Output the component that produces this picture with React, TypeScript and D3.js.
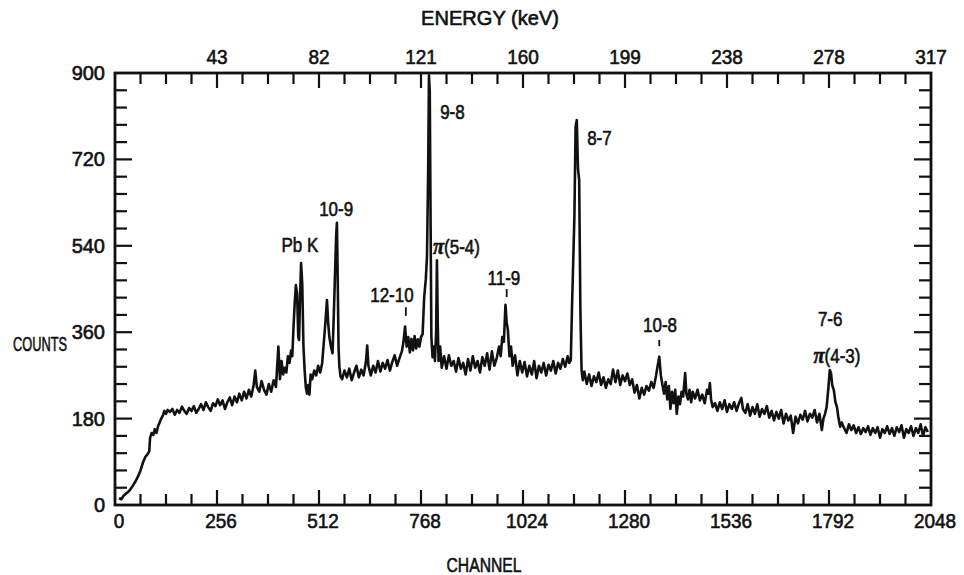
import React from "react";
import * as d3 from "d3";

// ---- data ----
const spectrum: [number, number][] = [
  [10, 14], [16, 12], [22, 20], [28, 24], [34, 28], [40, 34], [46, 42], [52, 50], [58, 60], [64, 72],
  [70, 88], [76, 100], [82, 106], [86, 112], [88, 140], [92, 150], [96, 146], [100, 158], [104, 150], [108, 164],
  [112, 172], [116, 180], [120, 186], [124, 196], [128, 190], [132, 198], [138, 194], [144, 200], [150, 188], [156, 198],
  [162, 192], [168, 205], [174, 196], [180, 190], [186, 202], [192, 196], [198, 206], [204, 192], [210, 200], [216, 210],
  [222, 198], [228, 214], [234, 204], [240, 196], [246, 212], [252, 206], [258, 220], [264, 208], [270, 218], [276, 200],
  [282, 214], [288, 224], [294, 208], [300, 226], [306, 214], [312, 232], [318, 218], [324, 236], [330, 222], [336, 240],
  [342, 226], [348, 250], [352, 280], [356, 246], [362, 236], [368, 258], [374, 240], [380, 230], [386, 252], [392, 236],
  [398, 260], [404, 246], [410, 330], [414, 262], [418, 300], [422, 272], [426, 286], [430, 276], [434, 310], [438, 296],
  [442, 322], [445, 310], [448, 370], [451, 420], [454, 458], [457, 440], [460, 350], [462, 344], [464, 420], [467, 504],
  [470, 460], [473, 330], [476, 280], [479, 245], [482, 232], [485, 250], [488, 230], [491, 272], [495, 262], [500, 280],
  [505, 270], [510, 290], [515, 276], [520, 296], [524, 338], [528, 380], [532, 427], [535, 380], [538, 350], [542, 330],
  [546, 316], [549, 392], [552, 475], [555, 560], [557, 588], [559, 470], [561, 330], [563, 290], [566, 268], [570, 262],
  [576, 280], [582, 266], [588, 284], [594, 260], [600, 276], [606, 290], [612, 266], [618, 282], [624, 270], [630, 300],
  [633, 332], [636, 290], [642, 270], [648, 290], [654, 276], [660, 300], [666, 278], [672, 296], [678, 284], [684, 302],
  [690, 280], [696, 298], [702, 312], [708, 290], [714, 306], [720, 320], [724, 340], [728, 372], [732, 330], [736, 350],
  [740, 318], [744, 346], [748, 322], [752, 352], [756, 326], [760, 345], [764, 330], [768, 350], [772, 356], [776, 433],
  [780, 470], [783, 517], [786, 700], [788, 895], [790, 860], [792, 600], [794, 350], [797, 308], [800, 330], [803, 300],
  [806, 360], [808, 510], [810, 379], [812, 300], [816, 330], [820, 286], [826, 310], [832, 284], [838, 312], [844, 290],
  [850, 300], [856, 278], [862, 306], [868, 284], [874, 296], [880, 272], [886, 304], [892, 280], [898, 310], [904, 286],
  [910, 300], [916, 276], [922, 308], [928, 290], [934, 316], [940, 282], [946, 320], [952, 290], [958, 306], [964, 330],
  [968, 310], [972, 350], [976, 340], [980, 417], [983, 380], [986, 365], [990, 310], [994, 330], [998, 290], [1004, 312],
  [1010, 270], [1016, 300], [1022, 276], [1028, 298], [1034, 268], [1040, 290], [1046, 272], [1052, 300], [1058, 264], [1064, 290],
  [1070, 276], [1076, 296], [1082, 270], [1088, 292], [1094, 280], [1100, 300], [1106, 274], [1112, 296], [1118, 284], [1124, 304],
  [1130, 288], [1136, 310], [1140, 296], [1144, 302], [1147, 412], [1150, 506], [1153, 600], [1156, 788], [1159, 802], [1162, 700],
  [1165, 677], [1168, 406], [1171, 281], [1174, 260], [1178, 278], [1184, 252], [1190, 272], [1196, 248], [1202, 268], [1208, 256],
  [1214, 276], [1220, 250], [1226, 266], [1232, 244], [1238, 262], [1244, 252], [1250, 282], [1256, 256], [1262, 280], [1268, 250],
  [1274, 270], [1280, 258], [1286, 274], [1292, 250], [1298, 262], [1304, 234], [1310, 250], [1316, 222], [1322, 244], [1328, 230],
  [1334, 248], [1340, 238], [1346, 256], [1352, 244], [1358, 270], [1362, 290], [1366, 309], [1370, 270], [1374, 250], [1378, 232],
  [1382, 256], [1386, 220], [1390, 248], [1394, 200], [1398, 236], [1402, 212], [1406, 240], [1410, 190], [1414, 226], [1418, 210],
  [1422, 236], [1426, 226], [1431, 275], [1434, 232], [1438, 220], [1442, 240], [1446, 214], [1450, 236], [1456, 222], [1462, 240],
  [1468, 218], [1474, 230], [1480, 212], [1486, 240], [1490, 232], [1493, 254], [1496, 220], [1500, 204], [1506, 212], [1512, 196],
  [1518, 214], [1524, 200], [1530, 218], [1536, 194], [1542, 210], [1548, 200], [1554, 214], [1560, 196], [1566, 212], [1572, 223],
  [1576, 200], [1582, 192], [1588, 210], [1594, 186], [1600, 204], [1606, 190], [1612, 210], [1618, 184], [1624, 200], [1630, 190],
  [1636, 206], [1642, 182], [1648, 196], [1654, 176], [1660, 194], [1666, 180], [1672, 198], [1678, 170], [1684, 190], [1690, 176],
  [1696, 186], [1702, 150], [1708, 184], [1714, 170], [1720, 188], [1726, 178], [1732, 196], [1738, 174], [1744, 190], [1750, 182],
  [1756, 198], [1762, 172], [1768, 190], [1774, 156], [1778, 180], [1782, 190], [1786, 204], [1790, 240], [1794, 281], [1797, 275],
  [1800, 250], [1804, 240], [1808, 215], [1812, 204], [1816, 180], [1820, 163], [1824, 172], [1830, 160], [1836, 150], [1842, 168],
  [1848, 156], [1854, 166], [1860, 150], [1866, 162], [1872, 148], [1878, 160], [1884, 152], [1890, 164], [1896, 146], [1902, 160],
  [1908, 150], [1914, 162], [1920, 140], [1926, 158], [1932, 150], [1938, 164], [1944, 148], [1950, 160], [1956, 144], [1962, 162],
  [1968, 152], [1974, 166], [1980, 140], [1986, 158], [1992, 150], [1998, 164], [2004, 144], [2010, 160], [2016, 150], [2022, 168],
  [2028, 144], [2034, 162], [2040, 152],
];

const channelTicks = [0, 256, 512, 768, 1024, 1280, 1536, 1792, 2048];
const energyTickChannels = [256, 512, 768, 1024, 1280, 1536, 1792, 2048];
const energyLabels = ["43", "82", "121", "160", "199", "238", "278", "317"];
const countTicks = [0, 180, 360, 540, 720, 900];

// annotation labels anchored at [channel, count]
const labelText = ["Pb K", "10-9", "9-8", "8-7", "π(5-4)", "12-10", "11-9", "10-8", "7-6", "π(4-3)"];
const labelChannel = [464, 555, 816, 1185, 798, 695, 976, 1368, 1795, 1812];
const labelCount = [527, 602, 804, 750, 523, 423, 458, 360, 373, 296];
const labelAnchor = ["middle", "middle", "start", "start", "start", "middle", "middle", "middle", "middle", "middle"];

// short marker lines under labels: [channel, countLow, countHigh]
const markerChannel = [730, 983, 1366];
const markerLow = [394, 433, 331];
const markerHigh = [412, 450, 344];

const W = 964;
const H = 575;
const FONT = "'Liberation Sans', Arial, sans-serif";
const INK = "#111";

function Txt(props: {
  x: number; y: number; anchor?: string; size?: number; sx?: number; len?: number; children: React.ReactNode;
}) {
  const { x, y, anchor = "middle", size = 20, sx = 0.9, len, children } = props;
  return (
    <text
      transform={`translate(${x},${y}) scale(${len ? 1 : sx},1)`}
      textAnchor={anchor as any}
      fontSize={size}
      fontFamily={FONT}
      fill={INK}
      stroke={INK}
      strokeWidth={0.6}
      textLength={len}
      lengthAdjust={len ? "spacingAndGlyphs" : undefined}
    >
      {children}
    </text>
  );
}

function Label(props: { text: string; x: number; y: number; anchor: string }) {
  const { text, x, y, anchor } = props;
  if (text.startsWith("π")) {
    return (
      <Txt x={x} y={y} anchor={anchor} sx={0.85}>
        <tspan fontStyle="italic" fontWeight="bold" fontFamily="'Liberation Serif', serif" fontSize={24}>π</tspan>
        {text.slice(1)}
      </Txt>
    );
  }
  return <Txt x={x} y={y} anchor={anchor} sx={0.85}>{text}</Txt>;
}

export default function App() {
  const x = d3.scaleLinear().domain([0, 2048]).range([115, 931]);
  const y = d3.scaleLinear().domain([0, 900]).range([505, 73]);
  const line = d3
    .line<[number, number]>()
    .x((d) => x(d[0]))
    .y((d) => y(d[1]));

  const chMinor = d3.range(64, 2048, 64);
  const cMinor = d3.range(36, 900, 36);
  const x0 = x(0), x1 = x(2048), y0 = y(0), y1 = y(900);

  return (
    <svg width={W} height={H} style={{ position: "absolute", left: 0, top: 0, background: "#fff" }}>
      <rect x={0} y={0} width={W} height={H} fill="#fff" />
      {/* ticks bottom & top */}
      {chMinor.map((c) => {
        const len = c % 256 === 0 ? 15 : 11;
        return (
          <g key={"xt" + c} stroke={INK} strokeWidth={2.2}>
            <line x1={x(c)} x2={x(c)} y1={y0} y2={y0 - len} />
            <line x1={x(c)} x2={x(c)} y1={y1} y2={y1 + len} />
          </g>
        );
      })}
      {/* ticks left & right */}
      {cMinor.map((c) => {
        const len = c % 180 === 0 ? 17 : 12;
        return (
          <g key={"yt" + c} stroke={INK} strokeWidth={2.2}>
            <line x1={x0} x2={x0 + len} y1={y(c)} y2={y(c)} />
            <line x1={x1} x2={x1 - len} y1={y(c)} y2={y(c)} />
          </g>
        );
      })}
      {/* frame */}
      <rect x={x0} y={y1} width={x1 - x0} height={y0 - y1} fill="none" stroke={INK} strokeWidth={2.8} />

      {/* data */}
      <path d={line(spectrum) || ""} fill="none" stroke={INK} strokeWidth={2.6} strokeLinejoin="round" />

      {/* axis labels */}
      {channelTicks.map((c) => (
        <Txt key={"xl" + c} x={x(c) + 4} y={528} sx={0.95}>{String(c)}</Txt>
      ))}
      {energyTickChannels.map((c, i) => (
        <Txt key={"el" + c} x={x(c)} y={64} sx={0.95}>{energyLabels[i]}</Txt>
      ))}
      {countTicks.map((c) => (
        <Txt key={"yl" + c} x={105} y={y(c) + 7} anchor="end" sx={1}>{String(c)}</Txt>
      ))}
      <Txt x={490} y={25} len={138}>ENERGY (keV)</Txt>
      <Txt x={484} y={572} len={75}>CHANNEL</Txt>
      <Txt x={40} y={351} sx={0.64}>COUNTS</Txt>

      {/* annotations */}
      {labelText.map((t, i) => (
        <Label key={"lb" + i} text={t} x={x(labelChannel[i])} y={y(labelCount[i])} anchor={labelAnchor[i]} />
      ))}
      {markerChannel.map((c, i) => (
        <line key={"mk" + i} x1={x(c)} x2={x(c)} y1={y(markerLow[i])} y2={y(markerHigh[i])} stroke={INK} strokeWidth={1.8} />
      ))}
    </svg>
  );
}
